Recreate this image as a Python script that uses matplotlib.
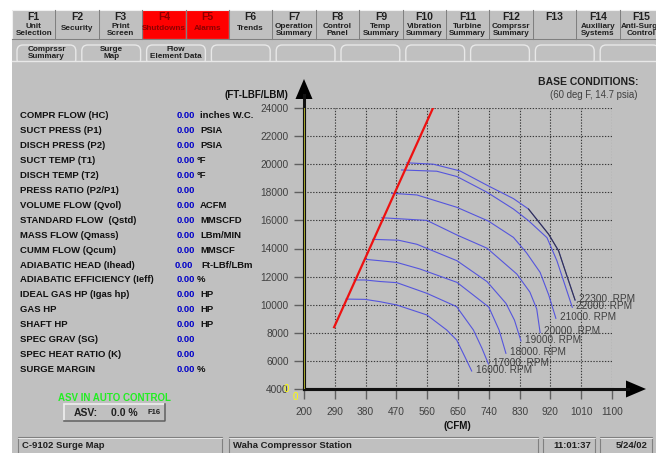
import matplotlib.pyplot as plt
from matplotlib.patches import Rectangle, FancyBboxPatch, Polygon

plt.rcParams['font.family'] = ['Liberation Sans', 'DejaVu Sans']

W, H = 656, 453
BG = '#c0c0c0'

# ── data ──
fkeys = ['F1', 'F2', 'F3', 'F4', 'F5', 'F6', 'F7', 'F8', 'F9', 'F10',
         'F11', 'F12', 'F13', 'F14', 'F15']
fkey_names = ['Unit\nSelection', 'Security', 'Print\nScreen', 'Shutdowns', 'Alarms',
              'Trends', 'Operation\nSummary', 'Control\nPanel', 'Temp\nSummary',
              'Vibration\nSummary', 'Turbine\nSummary', 'Comprssr\nSummary', '',
              'Auxiliary\nSystems', 'Anti-Surge\nControl']
alarm_keys = ['F4', 'F5']
tab_names = ['Comprssr\nSummary', 'Surge\nMap', 'Flow\nElement Data',
             '', '', '', '', '', '', '', '']

param_names = ['COMPR FLOW (HC)', 'SUCT PRESS (P1)', 'DISCH PRESS (P2)', 'SUCT TEMP (T1)',
               'DISCH TEMP (T2)', 'PRESS RATIO (P2/P1)', 'VOLUME FLOW (Qvol)',
               'STANDARD FLOW  (Qstd)', 'MASS FLOW (Qmass)', 'CUMM FLOW (Qcum)',
               'ADIABATIC HEAD (Ihead)', 'ADIABATIC EFFICIENCY (Ieff)',
               'IDEAL GAS HP (Igas hp)', 'GAS HP', 'SHAFT HP', 'SPEC GRAV (SG)',
               'SPEC HEAT RATIO (K)', 'SURGE MARGIN']
param_values = ['0.00'] * 18
param_units = ['inches W.C.', 'PSIA', 'PSIA', '°F', '°F', '', 'ACFM', 'MMSCFD',
               'LBm/MIN', 'MMSCF', 'Ft-LBf/LBm', '%', 'HP', 'HP', 'HP', '', '', '%']

cfm_ticks = [200, 290, 380, 470, 560, 650, 740, 830, 920, 1010, 1100]
head_ticks = [4000, 6000, 8000, 10000, 12000, 14000, 16000, 18000, 20000, 22000, 24000]

surge_cfm = [288, 577]
surge_head = [8400, 24000]

rpm_speeds = [16000, 17000, 18000, 19000, 20000, 21000, 22000, 22300]
cfm_16000 = [323, 378, 422, 471, 559, 617, 646, 670, 690]
head_16000 = [10400, 10380, 10215, 9980, 9270, 8200, 7490, 6300, 5280]
cfm_17000 = [346, 378, 422, 471, 559, 646, 695, 720, 739]
head_17000 = [11760, 11760, 11650, 11570, 10810, 9860, 8200, 6900, 5780]
cfm_18000 = [378, 422, 471, 539, 647, 740, 770, 790]
head_18000 = [13230, 13130, 13010, 12540, 11590, 9830, 8200, 6540]
cfm_19000 = [401, 476, 530, 647, 735, 790, 815, 834]
head_19000 = [14650, 14590, 14300, 13130, 11640, 10100, 8900, 7420]
cfm_20000 = [427, 559, 647, 735, 822, 860, 880, 890]
head_20000 = [16190, 16000, 14960, 14020, 12180, 10900, 9700, 8010]
cfm_21000 = [456, 530, 647, 739, 812, 850, 890, 915, 936]
head_21000 = [17930, 17810, 16930, 15950, 14790, 13700, 12300, 10700, 9030]
cfm_22000 = [485, 588, 647, 735, 812, 856, 910, 939, 984]
head_22000 = [19590, 19500, 19120, 18000, 16810, 15980, 14770, 13130, 9815]
cfm_22300 = [500, 578, 656, 735, 812, 856, 915, 944, 968, 992]
head_22300 = [20100, 20000, 19520, 18500, 17550, 16810, 15010, 13830, 12070, 10335]

speed_cfm = [cfm_16000, cfm_17000, cfm_18000, cfm_19000,
             cfm_20000, cfm_21000, cfm_22000, cfm_22300]
speed_head = [head_16000, head_17000, head_18000, head_19000,
              head_20000, head_21000, head_22000, head_22300]

fig = plt.figure(figsize=(W / 100, H / 100), dpi=100)
fig.patch.set_facecolor('white')

# ── screen background, pixel coordinates ──
bg = fig.add_axes([0, 0, 1, 1])
bg.set_xlim(0, W)
bg.set_ylim(H, 0)
bg.axis('off')
bg.add_patch(Rectangle((12, 10), W - 12, H - 10, facecolor=BG, edgecolor='none'))

# function keys
bw = 43.4
for i, (k, name) in enumerate(zip(fkeys, fkey_names)):
    x0 = 12 + i * bw
    fc = '#ff0000' if k in alarm_keys else BG
    tc = '#8b0000' if k in alarm_keys else '#202020'
    bg.add_patch(Rectangle((x0, 10), bw, 29, facecolor=fc, edgecolor='#f0f0f0', lw=0.8))
    bg.plot([x0 + bw, x0 + bw, x0], [10, 39, 39], color='#808080', lw=0.8)
    bg.text(x0 + bw / 2, 17, k, ha='center', va='center', fontsize=7.5, fontweight='bold', color=tc)
    if name:
        yy = 30 if '\n' in name else 28
        bg.text(x0 + bw / 2, yy, name, ha='center', va='center', fontsize=5.9,
                fontweight='bold', color=tc, linespacing=1.0)

# tabs
tw = 64.8
for i, name in enumerate(tab_names):
    x0 = 14 + i * tw
    bg.add_patch(FancyBboxPatch((x0 + 3, 45), tw - 6, 20, boxstyle='round,pad=0,rounding_size=6',
                                facecolor=BG, edgecolor='#e8e8e8', lw=1.0))
    if name:
        bg.text(x0 + tw / 2, 53, name, ha='center', va='center', fontsize=5.9,
                fontweight='bold', color='#202020', linespacing=0.85)
bg.add_patch(Rectangle((12, 61), W - 12, 16, facecolor=BG, edgecolor='none'))
bg.plot([12, W], [61, 61], color='#e8e8e8', lw=1.0)

# parameter list
for i, (n, v, u) in enumerate(zip(param_names, param_values, param_units)):
    y = 116 + i * 14.9
    bg.text(20, y, n, ha='left', va='center', fontsize=6.8, fontweight='bold', color='#101010')
    vx = 175 if i == 10 else 176.5
    bg.text(vx, y, v, ha='left', va='center', fontsize=6.8, fontweight='bold', color='#0000c8')
    if u:
        ux = 201.5 if i == 10 else (197 if u in ('°F', '%') else 200)
        bg.text(ux, y, u, ha='left', va='center', fontsize=6.8, fontweight='bold', color='#101010')

# ASV
bg.text(114, 398, 'ASV IN AUTO CONTROL', ha='center', va='center', fontsize=7,
        fontweight='bold', color='#22ee22')
bg.add_patch(Rectangle((64, 404), 101, 17, facecolor=BG, edgecolor='#f0f0f0', lw=1.2))
bg.plot([165, 165, 64], [404, 421, 421], color='#606060', lw=1.2)
bg.text(74, 412.5, 'ASV:', ha='left', va='center', fontsize=7.5, fontweight='bold', color='#202020')
bg.text(111, 412.5, '0.0 %', ha='left', va='center', fontsize=7.5, fontweight='bold', color='#202020')
bg.text(148, 413, 'F16', ha='left', va='center', fontsize=5.5, fontweight='bold', color='#202020')

# status bar
for (x0, x1), txt in zip([(18, 222), (229, 538), (543, 595), (600, 652)],
                         ['C-9102 Surge Map', 'Waha Compressor Station', '11:01:37', '5/24/02']):
    bg.add_patch(Rectangle((x0, 437), x1 - x0, 20, facecolor=BG, edgecolor='#808080', lw=0.8))
    bg.plot([x0, x1], [437.5, 437.5], color='#f0f0f0', lw=0.6)
    bg.text(x0 + 4 if x1 - x0 > 60 else x1 - 4, 445, txt,
            ha='left' if x1 - x0 > 60 else 'right', va='center', fontsize=6.8,
            fontweight='bold', color='#202020')

# axis arrows and titles
bg.plot([304, 304], [389, 95], color='#111111', lw=2.2)
bg.add_patch(Polygon([(304, 79), (295.5, 99), (312.5, 99)], closed=True, facecolor='black'))
bg.plot([304, 628], [389, 389], color='#111111', lw=2.2)
bg.add_patch(Polygon([(646, 389), (626, 380.5), (626, 397.5)], closed=True, facecolor='black'))
bg.text(256, 95, '(FT-LBF/LBM)', ha='center', va='center', fontsize=7, fontweight='bold', color='#101010')
bg.text(457, 426, '(CFM)', ha='center', va='center', fontsize=7, fontweight='bold', color='#101010')
bg.text(638, 82, 'BASE CONDITIONS:', ha='right', va='center', fontsize=7.5, fontweight='bold', color='#202020')
bg.text(637, 95, '(60 deg F, 14.7 psia)', ha='right', va='center', fontsize=6.9, color='#404040')

# ── surge map axes ──
ax = fig.add_axes([304 / W, 1 - 389 / H, (612 - 304) / W, (389 - 108) / H])
ax.set_facecolor('none')
ax.set_xlim(200, 1100)
ax.set_ylim(4000, 24000)
ax.set_xticks(cfm_ticks)
ax.set_yticks(head_ticks)
ax.grid(True, linestyle=(0, (1.2, 1.4)), color='#3a3a3a', lw=0.8)
for s in ['top', 'right']:
    ax.spines[s].set_visible(False)
for s in ['left', 'bottom']:
    ax.spines[s].set_color('#111111')
    ax.spines[s].set_linewidth(2.2)
ax.axvline(200, color='#a8a830', lw=0.7, zorder=5)
ax.axhline(4000, color='#a8a830', lw=0.7, zorder=5)
ax.tick_params(direction='out', length=7, width=1, color='#606060', labelcolor='#404040',
               labelsize=7.3)
ax.tick_params(axis='y', pad=4)
ax.tick_params(axis='x', pad=6)

ax.plot(surge_cfm, surge_head, color='#ee1111', lw=1.6, zorder=4)
for rpm, xs, ys in zip(rpm_speeds, speed_cfm, speed_head):
    ax.plot(xs, ys, color='#5555dd', lw=0.8, zorder=3)
    if rpm == 22300:
        # lower tail of the top curve is drawn darker on the screen
        ax.plot(xs[-5:], ys[-5:], color='#34344a', lw=0.8, zorder=3)
    ax.annotate(f'{rpm}. RPM', (xs[-1], ys[-1]), xytext=(3, 1), textcoords='offset points',
                ha='left', va='center', fontsize=7.2, color='#404040', annotation_clip=False)

bg.set_zorder(0)
ax.set_zorder(1)
fig.text(286 / W, 1 - 389 / H, '0', ha='center', va='center', fontsize=7, color='#ffff00')
fig.text(295 / W, 1 - 397 / H, '0', ha='center', va='center', fontsize=7, color='#ffff00')

fig.savefig('out.png', dpi=100, facecolor='white')
